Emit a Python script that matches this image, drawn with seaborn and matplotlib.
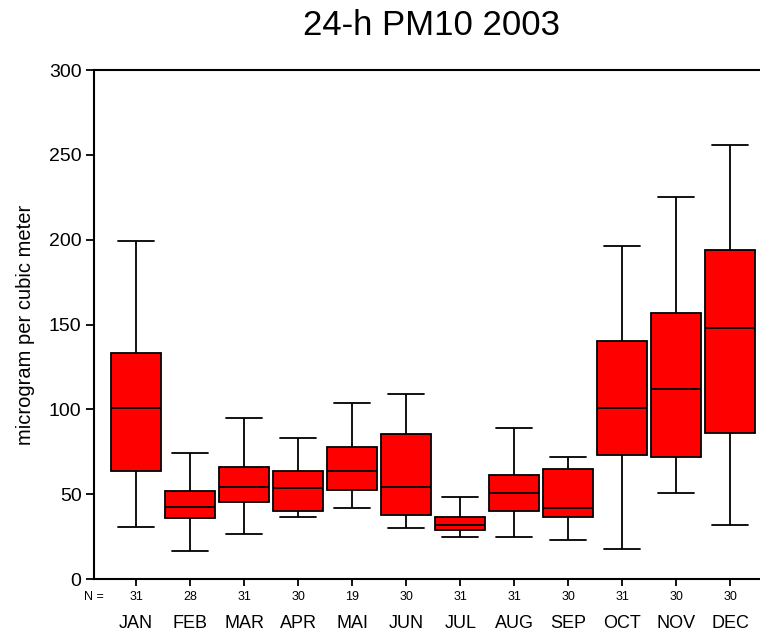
import pandas as pd
import numpy as np
import matplotlib
matplotlib.use('Agg')
import matplotlib.pyplot as plt
import seaborn as sns

# five-number summaries (min, q1, median, q3, max)
months = ['JAN', 'FEB', 'MAR', 'APR', 'MAI', 'JUN', 'JUL', 'AUG', 'SEP', 'OCT', 'NOV', 'DEC']
n_days = [31, 28, 31, 30, 19, 30, 31, 31, 30, 31, 30, 30]
mins = [30.4, 16.3, 26.5, 36.7, 42.0, 29.8, 24.5, 24.5, 22.7, 17.4, 50.4, 31.6]
q1s = [63.8, 35.7, 45.4, 40.2, 52.2, 37.9, 28.6, 40.1, 36.5, 73.1, 72.1, 86.2]
medians = [100.8, 42.2, 54.4, 53.4, 63.8, 54.4, 31.6, 50.4, 42.0, 100.8, 112.1, 147.7]
q3s = [133.0, 52.0, 65.8, 63.4, 78.0, 85.2, 36.5, 61.5, 64.6, 140.0, 156.5, 193.9]
maxs = [199.0, 74.2, 94.9, 83.4, 104.0, 109.0, 48.3, 88.8, 72.2, 196.0, 224.9, 255.9]

# long table: each month's five-number summary reproduces its own box
rows = []
for i, m in enumerate(months):
    for v in (mins[i], q1s[i], medians[i], q3s[i], maxs[i]):
        rows.append({'month': m, 'value': v})
df = pd.DataFrame(rows)

sns.set_style('white')
plt.rcParams['font.family'] = ['Liberation Sans', 'DejaVu Sans']
plt.rcParams['text.color'] = 'black'
plt.rcParams['axes.labelcolor'] = 'black'
plt.rcParams['xtick.color'] = 'black'
plt.rcParams['ytick.color'] = 'black'

fig = plt.figure(figsize=(7.6, 6.31), dpi=100)
ax = fig.add_axes([0.1237, 0.0824, 0.8763, 0.8066])

sns.boxplot(data=df, x='month', y='value', order=months, whis=(0, 100),
            showfliers=False, color='#ff0000', saturation=1, width=0.92,
            linecolor='black', linewidth=1.3, capwidths=0.67, ax=ax)

ax.set_ylim(0, 300)
ax.set_xlim(-0.78, 11.55)
ax.set_yticks([0, 50, 100, 150, 200, 250, 300])
ax.tick_params(axis='y', labelsize=14, length=6, width=1.3, direction='out',
               left=True, pad=3)
ax.tick_params(axis='x', labelsize=13, length=5, width=1.3, direction='out',
               bottom=True, pad=21)
ax.set_xticks(range(len(months)))
ax.set_xticklabels(months)
ax.set_xlabel('')
ax.set_ylabel('microgram per cubic meter', fontsize=14.5, labelpad=10)

for s in ['left', 'top', 'bottom']:
    ax.spines[s].set_visible(True)
    ax.spines[s].set_color('black')
    ax.spines[s].set_linewidth(1.5)
ax.spines['right'].set_visible(False)

# N counts under each box
trans = ax.get_xaxis_transform()
ax.text(-0.6, -0.035, 'N =', transform=trans, ha='right', va='center', fontsize=9)
for i, n in enumerate(n_days):
    ax.text(i, -0.035, str(n), transform=trans, ha='center', va='center', fontsize=9)

fig.suptitle('24-h PM10 2003', x=0.568, y=0.985, fontsize=25, va='top')

plt.savefig('out.png', dpi=100)
